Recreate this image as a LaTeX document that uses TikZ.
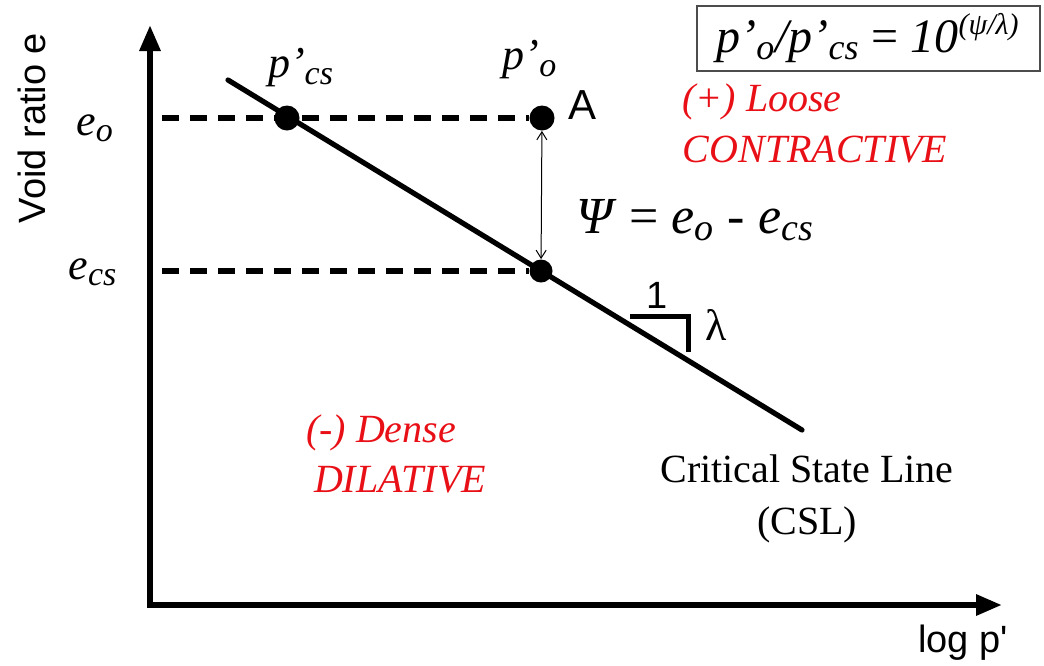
\documentclass[tikz,border=0pt]{standalone}
\usepackage{fontspec}
\setmainfont{Liberation Serif}[ItalicFont={Liberation Serif Italic}]
\newfontfamily\arialfont{Liberation Sans}
\usepackage{xcolor}
\usetikzlibrary{arrows.meta,positioning}
\definecolor{zonered}{RGB}{232,16,22}

\begin{document}
\begin{tikzpicture}[
      x=0.5pt, y=-0.5pt,
      axis/.style={line width=3pt, -{Triangle[length=13pt,width=10pt]}},
      csl/.style={line width=2.6pt, line cap=round},
      guide/.style={line width=2.6pt, dash pattern=on 8.5pt off 5.5pt},
      dot/.style={circle, fill=black, inner sep=0pt, minimum size=12.5pt},
      lbl/.style={inner sep=0pt, font=\fontsize{22}{26}\selectfont},
      sans/.style={inner sep=0pt, font=\arialfont\fontsize{19}{23}\selectfont},
      zone/.style={inner sep=0pt, text=zonered, font=\itshape\fontsize{20}{24}\selectfont}
    ]
    \useasboundingbox (0,0) rectangle (1044,665);

    % axes
    \coordinate (O) at (150,605);
    \coordinate (ytip) at (150,25);
    \coordinate (xtip) at (1002,605);
    \draw[axis] (O) -- (ytip);
    \draw[axis] ([xshift=-1.5pt]O) -- (xtip);
    \node[sans, rotate=90] (ylab) at (32,128) {Void ratio e};
    \node[sans] (xlab) at (963,643) {log p'};

    % critical state line
    \coordinate (c1) at (228,80);
    \coordinate (c2) at (802,430);
    \draw[csl] (c1) -- (c2);

    % points
    \node[dot] (pcs) at (287,118) {};
    \node[dot] (A) at (542,118) {};
    \node[dot, minimum size=11.5pt] (B) at (541,271) {};
    \coordinate (eo) at (162,118);
    \coordinate (ecs) at (162,271);
    \draw[guide] (eo) -- (A);
    \draw[guide] (ecs) -- (B);
    \draw[line width=0.5pt, {Straight Barb[length=4pt,width=5pt]}-{Straight Barb[length=4pt,width=5pt]}] (A) -- (B);

    % slope triangle
    \coordinate (s1) at (630,316);
    \coordinate (s2) at (688,316);
    \coordinate (s3) at (688,352);
    \draw[line width=2.5pt] (s1) -- (s2) -- (s3);
    \node[sans] (one) at (657,295) {1};
    \node[lbl] (lam) at (716,325) {λ};

    % labels
    \node[lbl] (pcslab) at (301,68) {\textit{p’\textsubscript{\fontsize{17}{20}\selectfont cs}}};
    \node[lbl] (polab) at (530,60) {\textit{p’\textsubscript{\fontsize{17}{20}\selectfont o}}};
    \node[sans, font=\arialfont\fontsize{21}{25}\selectfont] (Alab) at (583,105) {A};
    \node[lbl] (eolab) at (95,128) {\textit{e\textsubscript{\fontsize{17}{20}\selectfont o}}};
    \node[lbl] (ecslab) at (93,272) {\textit{e\textsubscript{\fontsize{17}{20}\selectfont cs}}};
    \node[lbl, font=\fontsize{26}{30}\selectfont] (psi) at (695,220)
      {\textit{Ψ} = \textit{e\textsubscript{\fontsize{19}{22}\selectfont o}} - \textit{e\textsubscript{\fontsize{19}{22}\selectfont cs}}};
    \node[draw=black!70, line width=1pt, minimum width=171.5pt, minimum height=32.5pt,
          font=\fontsize{24}{28}\selectfont] (ratio) at (868,38)
      {\textit{p’\textsubscript{\fontsize{18}{21}\selectfont o}/p’\textsubscript{\fontsize{18}{21}\selectfont cs}} = \textit{10\textsuperscript{\fontsize{15}{18}\selectfont(ψ/λ)}}};

    % zones
    \node[zone] (loose) at (762,102) {(+) Loose};
    \node[zone] (contr) at (815,150) {CONTRACTIVE};
    \node[zone] (dense) at (381,433) {(-) Dense};
    \node[zone] (dil) at (400,480) {DILATIVE};

    \node[lbl, font=\fontsize{20}{26}\selectfont, align=center] (csllab) at (807,499)
      {Critical State Line\\(CSL)};
  \end{tikzpicture}
\end{document}
